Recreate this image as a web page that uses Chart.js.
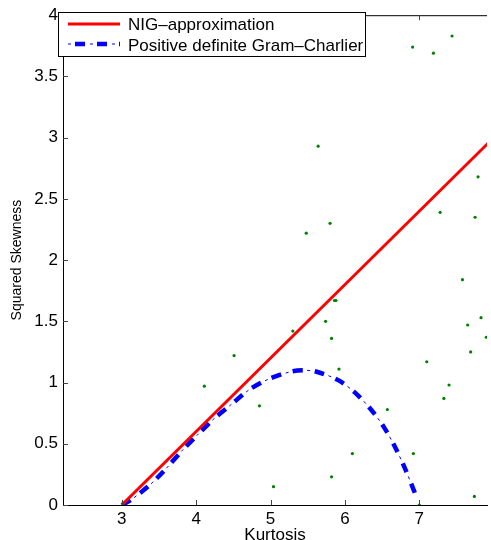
<!DOCTYPE html>
<html>
<head>
<meta charset="utf-8">
<script src="https://cdn.jsdelivr.net/npm/chart.js@4/dist/chart.umd.min.js"></script>
<style>
  body { margin: 0; background: #fff; }
  canvas { display: block; }
</style>
</head>
<body>
<canvas id="chart" width="491" height="540"></canvas>
<script>
// values
var xTicks = [3, 4, 5, 6, 7];
var yTicks = [0, 0.5, 1, 1.5, 2, 2.5, 3, 3.5, 4];
var yLabels = ['0', '0.5', '1', '1.5', '2', '2.5', '3', '3.5', '4'];

var nigX = [3, 8];
var nigY = [0, 3.0];

var gcX = [3.0, 3.12, 3.37, 3.57, 3.82, 4.03, 4.25, 4.47, 4.71, 4.98, 5.28, 5.45, 5.61, 5.91, 6.15, 6.35, 6.52, 6.66, 6.80, 6.92, 6.96];
var gcY = [0.0, 0.04, 0.16, 0.28, 0.45, 0.58, 0.71, 0.82, 0.94, 1.03, 1.09, 1.10, 1.09, 1.02, 0.91, 0.78, 0.64, 0.49, 0.31, 0.13, 0.07];

var dotX = [6.91, 7.19, 7.44, 5.64, 7.79, 7.28, 7.75, 5.80, 5.48, 7.58, 5.86, 5.88, 7.83, 5.74, 7.65, 5.30, 7.90, 5.82, 7.69, 4.51, 7.10, 5.92, 7.40, 4.11, 7.33, 4.85, 6.57, 6.10, 6.92, 5.82, 5.04, 7.74, 7.00];
var dotY = [3.74, 3.69, 3.83, 2.93, 2.68, 2.39, 2.35, 2.30, 2.22, 1.84, 1.67, 1.67, 1.53, 1.50, 1.47, 1.42, 1.37, 1.36, 1.25, 1.22, 1.17, 1.11, 0.98, 0.97, 0.87, 0.81, 0.78, 0.42, 0.42, 0.23, 0.15, 0.07, 0.0];

var legendLabels = ['NIG\u2013approximation', 'Positive definite Gram\u2013Charlier'];

function pts(xs, ys) {
  return xs.map(function(x, i) { return {x: x, y: ys[i]}; });
}

var fontFam = '"Liberation Sans", Arial, sans-serif';

var frame = {
  id: 'frame',
  afterDraw: function(chart) {
    var ctx = chart.ctx, a = chart.chartArea;
    var xs = chart.scales.x, ys = chart.scales.y;
    ctx.save();
    // top border + inward ticks
    ctx.strokeStyle = '#000';
    ctx.lineWidth = 1;
    ctx.beginPath();
    ctx.moveTo(a.left, a.top + 0.5);
    ctx.lineTo(a.right, a.top + 0.5);
    ctx.stroke();
    ctx.strokeStyle = '#444';
    ctx.beginPath();
    xTicks.forEach(function(v) {
      var px = Math.round(xs.getPixelForValue(v)) + 0.5;
      ctx.moveTo(px, a.bottom); ctx.lineTo(px, a.bottom - 5);
      ctx.moveTo(px, a.top); ctx.lineTo(px, a.top + 5);
    });
    yTicks.forEach(function(v) {
      var py = Math.round(ys.getPixelForValue(v)) + 0.5;
      ctx.moveTo(a.left, py); ctx.lineTo(a.left + 5, py);
    });
    ctx.stroke();

    // legend box
    var bx = 58, by = 12, bw = 307, bh = 44;
    ctx.fillStyle = '#fff';
    ctx.fillRect(bx, by, bw, bh);
    ctx.strokeStyle = '#000';
    ctx.lineWidth = 1;
    ctx.strokeRect(bx + 0.5, by + 0.5, bw, bh);

    ctx.lineWidth = 3;
    ctx.strokeStyle = '#ff0000';
    ctx.beginPath();
    ctx.moveTo(68, 24); ctx.lineTo(120, 24);
    ctx.stroke();

    ctx.strokeStyle = '#0000ff';
    ctx.lineWidth = 4.5;
    ctx.setLineDash([10, 12]);
    ctx.lineDashOffset = -7;
    ctx.beginPath();
    ctx.moveTo(68, 44); ctx.lineTo(120, 44);
    ctx.stroke();
    ctx.lineWidth = 1;
    ctx.setLineDash([3, 19]);
    ctx.lineDashOffset = 0;
    ctx.beginPath();
    ctx.moveTo(68, 44); ctx.lineTo(120, 44);
    ctx.stroke();
    ctx.setLineDash([]);

    ctx.fillStyle = '#000';
    ctx.font = '17px ' + fontFam;
    ctx.textBaseline = 'alphabetic';
    ctx.fillText(legendLabels[0], 128, 30);
    ctx.fillText(legendLabels[1], 128, 51);
    ctx.restore();
  }
};

new Chart(document.getElementById('chart').getContext('2d'), {
  type: 'scatter',
  data: {
    datasets: [{
      type: 'line',
      label: legendLabels[0],
      data: pts(nigX, nigY),
      borderColor: '#ff0000',
      borderWidth: 3,
      pointRadius: 0,
      fill: false
    }, {
      type: 'line',
      label: legendLabels[1],
      data: pts(gcX, gcY),
      borderColor: '#0000ff',
      borderWidth: 4.5,
      borderDash: [10, 12],
      pointRadius: 0,
      tension: 0.3,
      fill: false
    }, {
      type: 'line',
      label: 'gc-dots',
      data: pts(gcX, gcY),
      borderColor: '#0000ff',
      borderWidth: 1,
      borderDash: [3, 19],
      borderDashOffset: 7.5,
      pointRadius: 0,
      tension: 0.3,
      fill: false
    }, {
      label: 'samples',
      data: pts(dotX, dotY),
      backgroundColor: '#008000',
      borderColor: '#008000',
      borderWidth: 0,
      pointRadius: 1.6
    }]
  },
  options: {
    responsive: false,
    animation: false,
    layout: { padding: { top: 12, right: 0, left: 0, bottom: 0 } },
    plugins: { legend: { display: false }, tooltip: { enabled: false } },
    scales: {
      x: {
        type: 'linear',
        min: 2.21,
        max: 7.91,
        afterBuildTicks: function(s) { s.ticks = xTicks.map(function(v) { return {value: v}; }); },
        afterFit: function(s) { s.height = 35; },
        grid: { display: false, drawTicks: false },
        border: { display: true, color: '#000', width: 1 },
        ticks: { color: '#000', padding: 4, maxRotation: 0, font: { family: fontFam, size: 17 } },
        title: { display: true, text: 'Kurtosis', color: '#000', padding: 0, font: { family: fontFam, size: 17, lineHeight: 0.5 } }
      },
      y: {
        type: 'linear',
        min: 0,
        max: 4,
        afterBuildTicks: function(s) { s.ticks = yTicks.map(function(v) { return {value: v}; }); },
        afterFit: function(s) { s.width = 63; },
        grid: { display: false, drawTicks: false },
        border: { display: true, color: '#000', width: 1 },
        ticks: {
          color: '#000', padding: 5, font: { family: fontFam, size: 17 },
          callback: function(v, i) { return yLabels[i]; }
        },
        title: { display: true, text: 'Squared Skewness', color: '#000', padding: { top: 10, bottom: 10 }, font: { family: fontFam, size: 14, lineHeight: 1 } }
      }
    }
  },
  plugins: [frame]
});
</script>
</body>
</html>
